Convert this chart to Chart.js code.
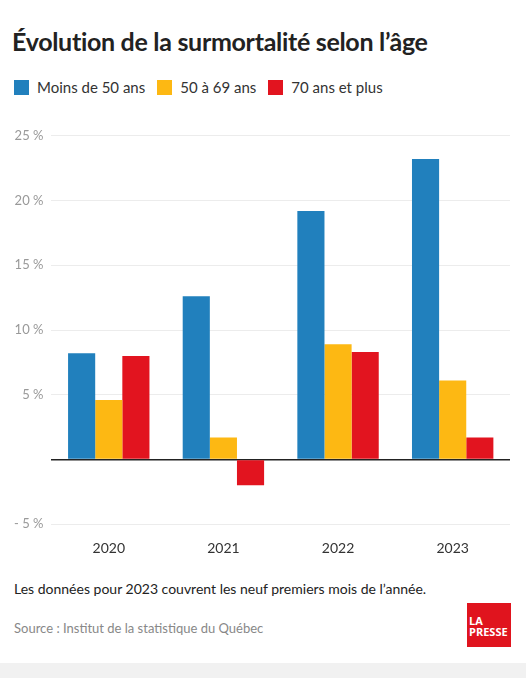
<!DOCTYPE html>
<html><head><meta charset="utf-8">
<script src="https://cdn.jsdelivr.net/npm/chart.js@4"></script>
<style>
body{margin:0;width:526px;height:678px;background:#fff;font-family:Lato,"Open Sans",sans-serif;position:relative;overflow:hidden}
h1{position:absolute;left:12px;top:26px;margin:0;font-size:25px;font-weight:700;color:#222;letter-spacing:-0.3px}
.legend{position:absolute;top:78px;left:14px;font-size:15px;color:#333;display:flex;align-items:center}
.legend span.sw{display:inline-block;width:15px;height:15px;margin-right:8px}
.legend div{display:flex;align-items:center;margin-right:12px}
#wrap{position:absolute;left:0;top:120px;width:526px;height:445px}
.note{position:absolute;left:14px;top:580px;font-size:14px;color:#222}
.src{position:absolute;left:14px;top:620px;font-size:13px;color:#888}
.logo{position:absolute;left:467px;top:603px;width:44px;height:44px;background:#e0141e;color:#fff;font:700 11px "Open Sans",sans-serif;line-height:11px;box-sizing:border-box;padding:12px 0 0 2px}
.band{position:absolute;left:0;top:663px;width:526px;height:15px;background:#f1f1f1}
</style></head><body>
<h1>Évolution de la surmortalité selon l’âge</h1>
<div class="legend">
<div><span class="sw" style="background:#2180bd"></span>Moins de 50 ans</div>
<div><span class="sw" style="background:#fdb813"></span>50 à 69 ans</div>
<div><span class="sw" style="background:#e2141f"></span>70 ans et plus</div>
</div>
<div id="wrap"><canvas id="c"></canvas></div>
<div class="note">Les données pour 2023 couvrent les neuf premiers mois de l’année.</div>
<div class="src">Source : Institut de la statistique du Québec</div>
<div class="logo">LA<br>PRESSE</div>
<div class="band"></div>
<script>
const years = ["2020", "2021", "2022", "2023"];
const under50 = [8.2, 12.6, 19.2, 23.2];
const age50to69 = [4.6, 1.7, 8.9, 6.1];
const over70 = [8.0, -2.0, 8.3, 1.7];
const seriesNames = ["Moins de 50 ans", "50 à 69 ans", "70 ans et plus"];
const colors = ["#2180bd", "#fdb813", "#e2141f"];

new Chart(document.getElementById("c"), {
    type: "bar",
    data: {
        labels: years,
        datasets: [under50, age50to69, over70].map((d, i) => ({
            label: seriesNames[i], data: d, backgroundColor: colors[i],
            categoryPercentage: 0.71, barPercentage: 1,
        })),
    },
    options: {
        responsive: true, maintainAspectRatio: false, animation: false,
        layout: { padding: { top: 8, right: 16, left: 6 } },
        plugins: { legend: { display: false }, tooltip: { enabled: false } },
        scales: {
            x: {
                grid: { display: false }, border: { display: false },
                ticks: { color: "#333", font: { family: "Lato", size: 14 }, padding: 8 },
            },
            y: {
                min: -5, max: 25,
                ticks: {
                    stepSize: 5, color: "#999", font: { family: "Lato", size: 13 }, padding: 8,
                    callback: v => v === 0 ? "" : (v < 0 ? "- " + (-v) : v) + " %",
                },
                grid: {
                    drawTicks: false,
                    color: ctx => ctx.tick && ctx.tick.value === 0 ? "#222" : "#ececec",
                    lineWidth: ctx => ctx.tick && ctx.tick.value === 0 ? 1.5 : 1,
                },
                border: { display: false },
            },
        },
    },
});
</script>
</body></html>
